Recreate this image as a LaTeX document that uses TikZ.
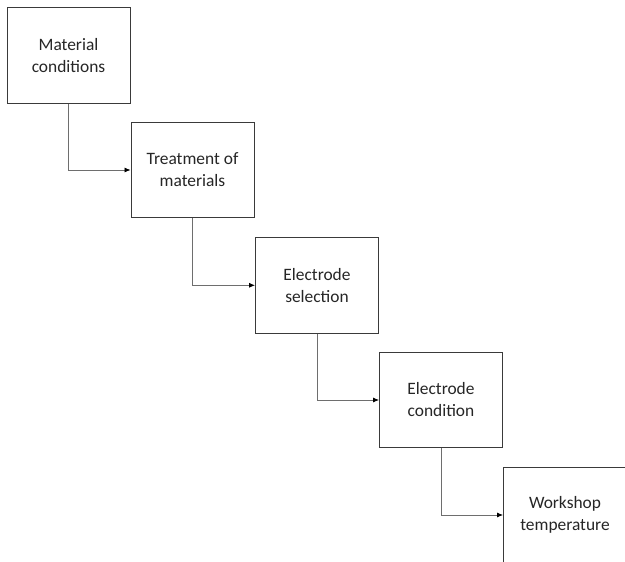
\documentclass[tikz,border=0pt]{standalone}
\usepackage{fontspec}
\setmainfont{Carlito}
\usetikzlibrary{arrows.meta}
\definecolor{boxline}{HTML}{3A3A3A}
\definecolor{linkline}{HTML}{6E6E6E}
\definecolor{txt}{HTML}{262626}
\tikzset{
  stagebox/.style={draw=boxline, line width=0.9pt, fill=white,
    minimum width=123pt, minimum height=95.5pt, inner sep=0pt,
    align=center, text=txt,
    font=\fontsize{17.4pt}{22pt}\selectfont},
  link/.style={draw=linkline, line width=0.8pt,
    -{Latex[length=6pt,width=5pt,color=black]}}
}
\begin{document}
\begin{tikzpicture}[x=1pt,y=-1pt]
  \useasboundingbox (0,0) rectangle (625,562);
  \clip (0,0) rectangle (625,562);
  \fill[white] (0,0) rectangle (625,562);
  % stages, each one step down and to the right
  \node[stagebox] (s1) at (68.5,55.5)  {Material\\conditions};
  \node[stagebox] (s2) at (192.5,170)  {Treatment of\\materials};
  \node[stagebox] (s3) at (317,285.3)  {Electrode\\selection};
  \node[stagebox] (s4) at (441,400)    {Electrode\\condition};
  \node[stagebox] (s5) at (565,515)    {Workshop\\temperature};
  % elbow connectors: down from one box, then right into the next
  \draw[link] (s1.south) |- (s2.west);
  \draw[link] (s2.south) |- (s3.west);
  \draw[link] (s3.south) |- (s4.west);
  \draw[link] (s4.south) |- (s5.west);
\end{tikzpicture}
\end{document}
